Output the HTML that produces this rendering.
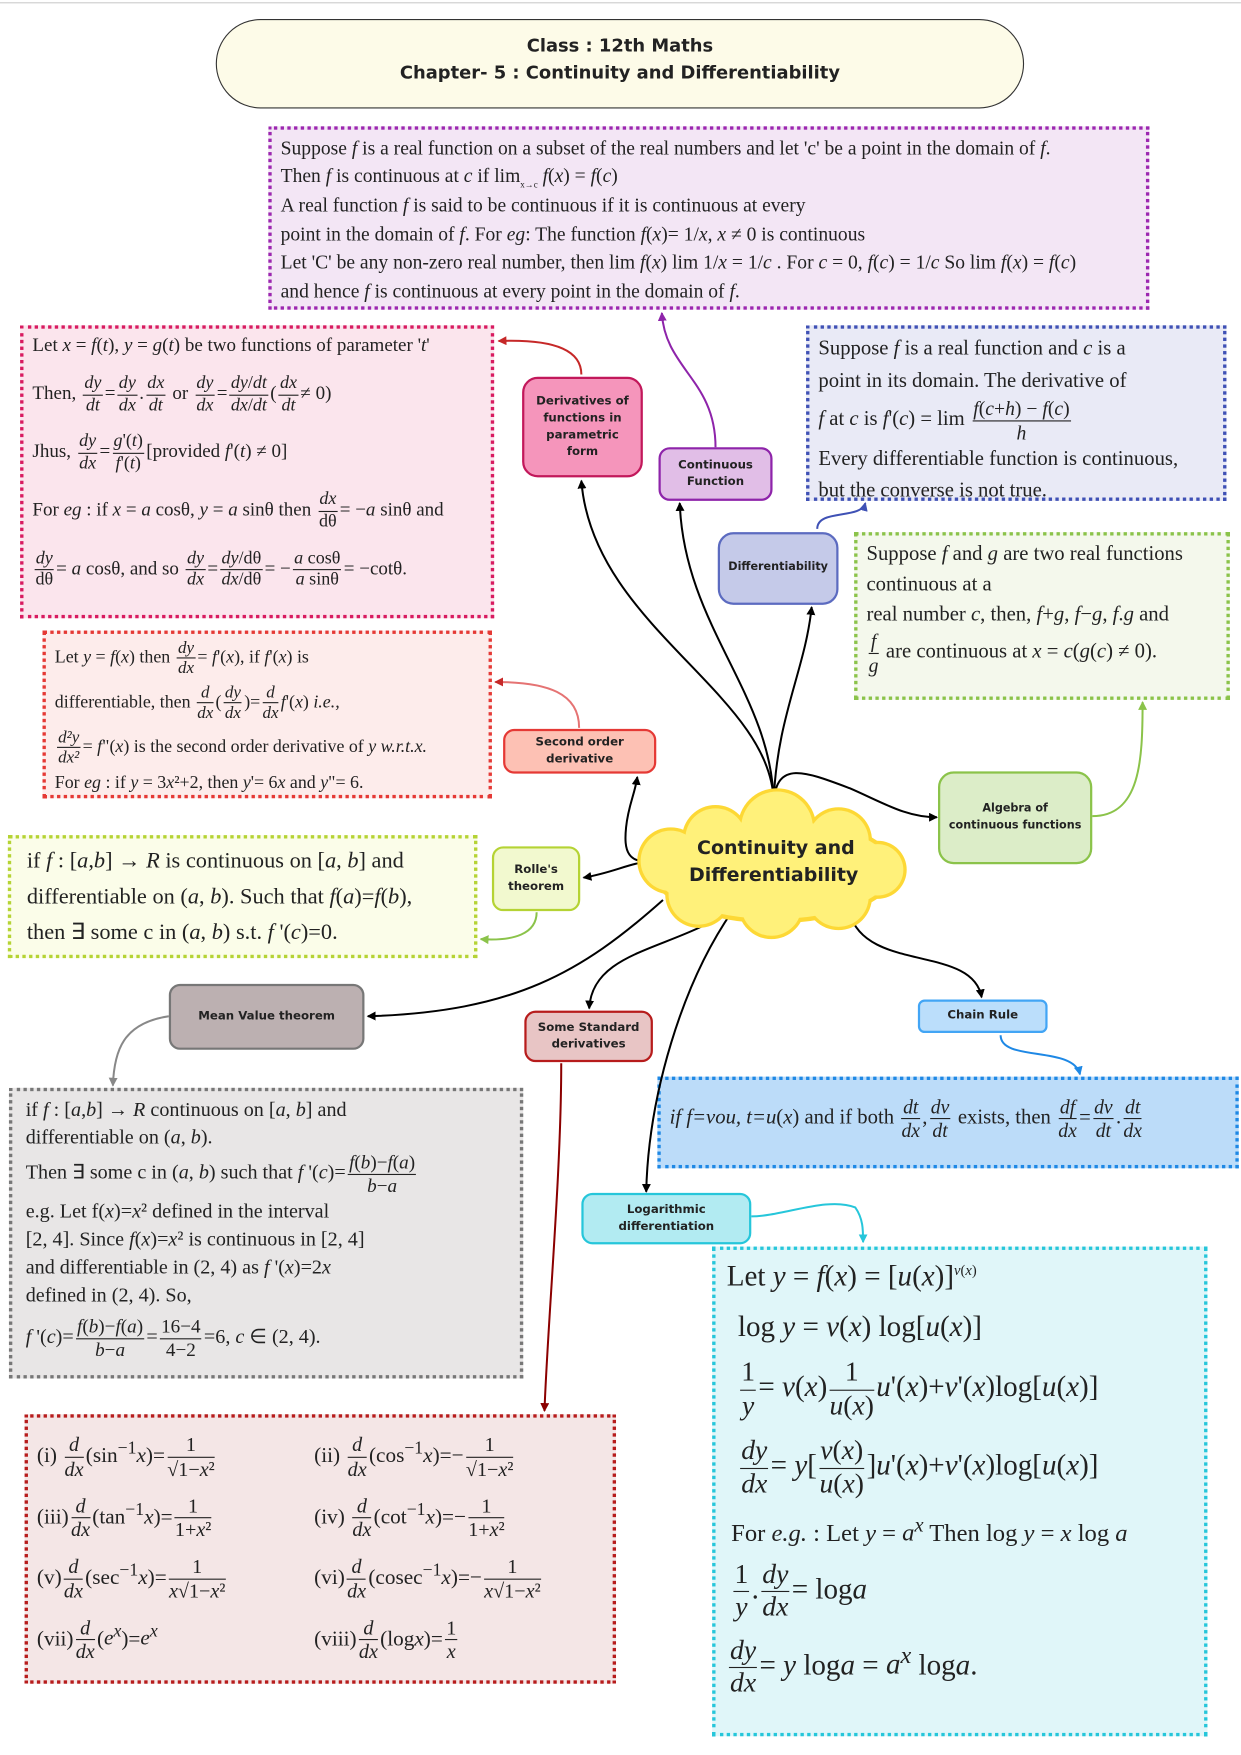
<!DOCTYPE html>
<html><head><meta charset="utf-8"><style>
html,body{margin:0;padding:0;background:#fff;}
#root{position:relative;width:1110px;height:1570px;transform:scale(1.1180);transform-origin:0 0;overflow:hidden;}
.b{position:absolute;box-sizing:border-box;border:3px dotted;font-family:"Liberation Serif",serif;color:#222;font-size:18px;line-height:1.35;padding:4px 8px;overflow:hidden;}
.n{position:absolute;box-sizing:border-box;border:2px solid;border-radius:10px;font-family:"DejaVu Sans","Liberation Sans",sans-serif;font-weight:bold;font-size:11px;line-height:1.45;display:flex;align-items:center;justify-content:center;text-align:center;color:#222;white-space:nowrap;}
.fr{display:inline-flex;flex-direction:column;vertical-align:middle;text-align:center;font-size:0.95em;line-height:1.15;margin:0 2px;}
.fr>span:first-child{border-bottom:1px solid #222;padding:0 1px;}
i{font-style:italic;}
svg{position:absolute;left:0;top:0;}
</style></head><body><div id="root">
<div style="position:absolute;left:0;top:2px;width:1110px;height:1px;background:#ccc"></div>
<div style="position:absolute;left:193px;top:17px;width:723px;height:80px;box-sizing:border-box;border:1.5px solid #333;border-radius:40px;background:#fdfbe8;font-family:'DejaVu Sans','Liberation Sans',sans-serif;font-weight:bold;font-size:16px;text-align:center;line-height:24px;padding-top:11px;color:#222">Class : 12th Maths<br>Chapter- 5 : Continuity and Differentiability</div>

<div class="b" style="left:240px;top:113px;width:788px;height:164px;background:#f3e6f5;border-color:#9c27b0;font-size:17.5px;line-height:1.45">
Suppose <i>f</i> is a real function on a subset of the real numbers and let 'c' be a point in the domain of <i>f</i>.<br>
Then <i>f</i> is continuous at <i>c</i> if lim<sub style="font-size:8px">x→c</sub> <i>f</i>(<i>x</i>) = <i>f</i>(<i>c</i>)<br>
A real function <i>f</i> is said to be continuous if it is continuous at every<br>
point in the domain of <i>f</i>. For <i>eg</i>: The function <i>f</i>(<i>x</i>)= 1/<i>x</i>, <i>x</i> ≠ 0 is continuous<br>
Let 'C' be any non-zero real number, then lim <i>f</i>(<i>x</i>) lim 1/<i>x</i> = 1/<i>c</i> . For <i>c</i> = 0, <i>f</i>(<i>c</i>) = 1/<i>c</i> So lim <i>f</i>(<i>x</i>) = <i>f</i>(<i>c</i>)<br>
and hence <i>f</i> is continuous at every point in the domain of <i>f</i>.</div>

<div class="b" style="left:18px;top:291px;width:424px;height:262px;background:#fbe5ed;border-color:#d81b60;font-size:17px;line-height:1.3">
Let <i>x</i> = <i>f</i>(<i>t</i>), <i>y</i> = <i>g</i>(<i>t</i>) be two functions of parameter '<i>t</i>'<br>
<div style="margin:14px 0">Then, <span class="fr"><span><i>dy</i></span><span><i>dt</i></span></span>=<span class="fr"><span><i>dy</i></span><span><i>dx</i></span></span>.<span class="fr"><span><i>dx</i></span><span><i>dt</i></span></span> or <span class="fr"><span><i>dy</i></span><span><i>dx</i></span></span>=<span class="fr"><span><i>dy</i>/<i>dt</i></span><span><i>dx</i>/<i>dt</i></span></span>(<span class="fr"><span><i>dx</i></span><span><i>dt</i></span></span>≠ 0)</div>
<div style="margin:14px 0">Jhus, <span class="fr"><span><i>dy</i></span><span><i>dx</i></span></span>=<span class="fr"><span><i>g</i>'(<i>t</i>)</span><span><i>f</i>'(<i>t</i>)</span></span>[provided <i>f</i>'(<i>t</i>) ≠ 0]</div>
<div style="margin:14px 0">For <i>eg</i> : if <i>x</i> = <i>a</i> cosθ, <i>y</i> = <i>a</i> sinθ then <span class="fr"><span><i>dx</i></span><span>dθ</span></span>= −<i>a</i> sinθ and</div>
<span class="fr"><span><i>dy</i></span><span>dθ</span></span>= <i>a</i> cosθ, and so <span class="fr"><span><i>dy</i></span><span><i>dx</i></span></span>=<span class="fr"><span><i>dy</i>/dθ</span><span><i>dx</i>/dθ</span></span>= −<span class="fr"><span><i>a</i> cosθ</span><span><i>a</i> sinθ</span></span>= −cotθ.</div>

<div class="b" style="left:721px;top:291px;width:376px;height:157px;background:#e9eaf6;border-color:#3f51b5;font-size:18.5px;line-height:1.55">
Suppose <i>f</i> is a real function and <i>c</i> is a<br>point in its domain. The derivative of<br>
<i>f</i> at <i>c</i> is <i>f</i>'(<i>c</i>) = lim <span class="fr"><span><i>f</i>(<i>c</i>+<i>h</i>) − <i>f</i>(<i>c</i>)</span><span><i>h</i></span></span><br>
Every differentiable function is continuous,<br>but the converse is not true.</div>

<div class="b" style="left:764px;top:476px;width:336px;height:150px;background:#f4f8ec;border-color:#8bc34a;font-size:18.5px;line-height:1.45">
Suppose <i>f</i> and <i>g</i> are two real functions<br>continuous at a<br>real number <i>c</i>, then, <i>f</i>+<i>g</i>, <i>f</i>−<i>g</i>, <i>f</i>.<i>g</i> and<br>
<span class="fr"><span><i>f</i></span><span><i>g</i></span></span> are continuous at <i>x</i> = <i>c</i>(<i>g</i>(<i>c</i>) ≠ 0).</div>

<div class="b" style="left:38px;top:564px;width:402px;height:150px;background:#fdeceb;border-color:#e53935;font-size:16px;line-height:1.3">
Let <i>y</i> = <i>f</i>(<i>x</i>) then <span class="fr"><span><i>dy</i></span><span><i>dx</i></span></span>= <i>f</i>'(<i>x</i>), if <i>f</i>'(<i>x</i>) is<br>
<div style="margin:4px 0">differentiable, then <span class="fr"><span><i>d</i></span><span><i>dx</i></span></span>(<span class="fr"><span><i>dy</i></span><span><i>dx</i></span></span>)=<span class="fr"><span><i>d</i></span><span><i>dx</i></span></span><i>f</i>'(<i>x</i>) <i>i.e.,</i></div>
<div style="margin:4px 0"><span class="fr"><span><i>d²y</i></span><span><i>dx²</i></span></span>= <i>f</i>"(<i>x</i>) is the second order derivative of <i>y w.r.t.x.</i></div>
For <i>eg</i> : if <i>y</i> = 3<i>x</i>²+2, then <i>y</i>'= 6<i>x</i> and <i>y</i>"= 6.</div>

<div class="b" style="left:7px;top:747px;width:420px;height:110px;background:#fbfde9;border-color:#b5d334;font-size:20px;line-height:1.6;padding-left:14px">
if <i>f</i> : [<i>a</i>,<i>b</i>] → <i>R</i> is continuous on [<i>a</i>, <i>b</i>] and<br>differentiable on (<i>a</i>, <i>b</i>). Such that <i>f</i>(<i>a</i>)=<i>f</i>(<i>b</i>),<br>then ∃ some c in (<i>a</i>, <i>b</i>) s.t. <i>f</i> '(<i>c</i>)=0.</div>

<div class="b" style="left:8px;top:973px;width:460px;height:260px;background:#e8e6e6;border-color:#777;font-size:18px;line-height:1.4;padding-left:12px">
if <i>f</i> : [<i>a</i>,<i>b</i>] → <i>R</i> continuous on [<i>a</i>, <i>b</i>] and<br>differentiable on (<i>a</i>, <i>b</i>).<br>
Then ∃ some c in (<i>a</i>, <i>b</i>) such that <i>f</i> '(<i>c</i>)=<span class="fr"><span><i>f</i>(<i>b</i>)−<i>f</i>(<i>a</i>)</span><span><i>b</i>−<i>a</i></span></span><br>
e.g. Let f(<i>x</i>)=<i>x</i>² defined in the interval<br>[2, 4]. Since <i>f</i>(<i>x</i>)=<i>x</i>² is continuous in [2, 4]<br>and differentiable in (2, 4) as <i>f</i> '(<i>x</i>)=2<i>x</i><br>defined in (2, 4). So,<br>
<div style="margin-top:6px"><i>f</i> '(<i>c</i>)=<span class="fr"><span><i>f</i>(<i>b</i>)−<i>f</i>(<i>a</i>)</span><span><i>b</i>−<i>a</i></span></span>=<span class="fr"><span>16−4</span><span>4−2</span></span>=6, <i>c</i> ∈ (2, 4).</div></div>

<div class="b" style="left:588px;top:963px;width:520px;height:82px;background:#bcdcf9;border-color:#1e88e5;font-size:18.5px;line-height:1;padding-top:14px">
<i>if f=vou, t=u</i>(<i>x</i>) and if both <span class="fr"><span><i>dt</i></span><span><i>dx</i></span></span>,<span class="fr"><span><i>dv</i></span><span><i>dt</i></span></span> exists, then <span class="fr"><span><i>df</i></span><span><i>dx</i></span></span>=<span class="fr"><span><i>dv</i></span><span><i>dt</i></span></span>.<span class="fr"><span><i>dt</i></span><span><i>dx</i></span></span></div>

<div class="b" style="left:22px;top:1265px;width:529px;height:241px;background:#f4e6e6;border-color:#b71c1c;font-size:19px;line-height:1.2;padding:14px 8px">
<div style="display:grid;grid-template-columns:248px 268px;row-gap:12px;white-space:nowrap">
<div>(i) <span class="fr"><span><i>d</i></span><span><i>dx</i></span></span>(sin<sup>−1</sup><i>x</i>)=<span class="fr"><span>1</span><span>√1−<i>x</i>²</span></span></div>
<div>(ii) <span class="fr"><span><i>d</i></span><span><i>dx</i></span></span>(cos<sup>−1</sup><i>x</i>)=−<span class="fr"><span>1</span><span>√1−<i>x</i>²</span></span></div>
<div>(iii)<span class="fr"><span><i>d</i></span><span><i>dx</i></span></span>(tan<sup>−1</sup><i>x</i>)=<span class="fr"><span>1</span><span>1+<i>x</i>²</span></span></div>
<div>(iv) <span class="fr"><span><i>d</i></span><span><i>dx</i></span></span>(cot<sup>−1</sup><i>x</i>)=−<span class="fr"><span>1</span><span>1+<i>x</i>²</span></span></div>
<div>(v)<span class="fr"><span><i>d</i></span><span><i>dx</i></span></span>(sec<sup>−1</sup><i>x</i>)=<span class="fr"><span>1</span><span><i>x</i>√1−<i>x</i>²</span></span></div>
<div>(vi)<span class="fr"><span><i>d</i></span><span><i>dx</i></span></span>(cosec<sup>−1</sup><i>x</i>)=−<span class="fr"><span>1</span><span><i>x</i>√1−<i>x</i>²</span></span></div>
<div>(vii)<span class="fr"><span><i>d</i></span><span><i>dx</i></span></span>(<i>e<sup>x</sup></i>)=<i>e<sup>x</sup></i></div>
<div>(viii)<span class="fr"><span><i>d</i></span><span><i>dx</i></span></span>(log<i>x</i>)=<span class="fr"><span>1</span><span><i>x</i></span></span></div>
</div></div>

<div class="b" style="left:637px;top:1115px;width:443px;height:438px;background:#e0f6f9;border-color:#26c6da;font-size:26px;line-height:1.2;padding:8px 10px;white-space:nowrap">
<div style="margin-bottom:14px">Let <i>y</i> = <i>f</i>(<i>x</i>) = [<i>u</i>(<i>x</i>)]<sup style="font-size:13px"><i>v</i>(<i>x</i>)</sup></div>
<div style="margin:0 0 12px 10px">log <i>y</i> = <i>v</i>(<i>x</i>) log[<i>u</i>(<i>x</i>)]</div>
<div style="margin:0 0 12px 10px"><span class="fr"><span>1</span><span><i>y</i></span></span>= <i>v</i>(<i>x</i>)<span class="fr"><span>1</span><span><i>u</i>(<i>x</i>)</span></span><i>u</i>'(<i>x</i>)+<i>v</i>'(<i>x</i>)log[<i>u</i>(<i>x</i>)]</div>
<div style="margin:0 0 12px 10px"><span class="fr"><span><i>dy</i></span><span><i>dx</i></span></span>= <i>y</i>[<span class="fr"><span><i>v</i>(<i>x</i>)</span><span><i>u</i>(<i>x</i>)</span></span>]<i>u</i>'(<i>x</i>)+<i>v</i>'(<i>x</i>)log[<i>u</i>(<i>x</i>)]</div>
<div style="margin:0 0 10px 4px;font-size:22px">For <i>e.g.</i> : Let <i>y</i> = <i>a<sup>x</sup></i> Then log <i>y</i> = <i>x</i> log <i>a</i></div>
<div style="margin:0 0 10px 4px"><span class="fr"><span>1</span><span><i>y</i></span></span>.<span class="fr"><span><i>dy</i></span><span><i>dx</i></span></span>= log<i>a</i></div>
<div><span class="fr"><span><i>dy</i></span><span><i>dx</i></span></span>= <i>y</i> log<i>a</i> = <i>a<sup>x</sup></i> log<i>a</i>.</div>
</div>

<svg width="1110" height="1570" viewBox="0 0 1110 1570">
<defs>
<marker id="ak" markerWidth="8" markerHeight="8" refX="7" refY="4" orient="auto" markerUnits="userSpaceOnUse"><path d="M0,0 L8,4 L0,8 z" fill="#000"/></marker>
<marker id="ar" markerWidth="8" markerHeight="8" refX="7" refY="4" orient="auto" markerUnits="userSpaceOnUse"><path d="M0,0 L8,4 L0,8 z" fill="#c62828"/></marker>
<marker id="ap" markerWidth="8" markerHeight="8" refX="7" refY="4" orient="auto" markerUnits="userSpaceOnUse"><path d="M0,0 L8,4 L0,8 z" fill="#8e24aa"/></marker>
<marker id="ab" markerWidth="8" markerHeight="8" refX="7" refY="4" orient="auto" markerUnits="userSpaceOnUse"><path d="M0,0 L8,4 L0,8 z" fill="#3f51b5"/></marker>
<marker id="ag" markerWidth="8" markerHeight="8" refX="7" refY="4" orient="auto" markerUnits="userSpaceOnUse"><path d="M0,0 L8,4 L0,8 z" fill="#8bc34a"/></marker>
<marker id="ay" markerWidth="8" markerHeight="8" refX="7" refY="4" orient="auto" markerUnits="userSpaceOnUse"><path d="M0,0 L8,4 L0,8 z" fill="#888"/></marker>
<marker id="ad" markerWidth="8" markerHeight="8" refX="7" refY="4" orient="auto" markerUnits="userSpaceOnUse"><path d="M0,0 L8,4 L0,8 z" fill="#8b0000"/></marker>
<marker id="al" markerWidth="8" markerHeight="8" refX="7" refY="4" orient="auto" markerUnits="userSpaceOnUse"><path d="M0,0 L8,4 L0,8 z" fill="#1e88e5"/></marker>
<marker id="ac" markerWidth="8" markerHeight="8" refX="7" refY="4" orient="auto" markerUnits="userSpaceOnUse"><path d="M0,0 L8,4 L0,8 z" fill="#26c6da"/></marker>
</defs>
<g fill="none" stroke-width="1.8">
<path d="M692,717 C690,620 530,560 520,430" stroke="#000" marker-end="url(#ak)"/>
<path d="M692,717 C690,620 612,560 608,450" stroke="#000" marker-end="url(#ak)"/>
<path d="M692,717 C695,640 720,600 726,543" stroke="#000" marker-end="url(#ak)"/>
<path d="M692,717 C695,680 720,690 760,705 C790,718 810,731 838,731" stroke="#000" marker-end="url(#ak)"/>
<path d="M590,770 C560,775 558,760 560,740 C562,720 568,710 570,695" stroke="#000" marker-end="url(#ak)"/>
<path d="M590,770 C565,770 552,780 522,785" stroke="#000" marker-end="url(#ak)"/>
<path d="M593,805 C520,870 460,905 329,909" stroke="#000" marker-end="url(#ak)"/>
<path d="M652,815 C600,850 530,850 527,902" stroke="#000" marker-end="url(#ak)"/>
<path d="M655,815 C610,880 580,980 578,1066" stroke="#000" marker-end="url(#ak)"/>
<path d="M760,817 C775,870 870,845 878,892" stroke="#000" marker-end="url(#ak)"/>
<path d="M520,335 C520,315 500,303 446,305" stroke="#c62828" marker-end="url(#ar)"/>
<path d="M640,400 C640,340 595,330 592,280" stroke="#8e24aa" marker-end="url(#ap)"/>
<path d="M731,473 C731,455 770,465 774,450" stroke="#3f51b5" marker-end="url(#ab)"/>
<path d="M518,651 C518,620 490,610 443,610" stroke="#e57373" marker-end="url(#ar)"/>
<path d="M977,730 C1020,730 1022,680 1022,628" stroke="#8bc34a" marker-end="url(#ag)"/>
<path d="M480,816 C480,835 460,842 430,840" stroke="#8bc34a" marker-end="url(#ag)"/>
<path d="M151,909 C110,915 102,940 101,971" stroke="#888" marker-end="url(#ay)"/>
<path d="M502,951 C502,1050 490,1180 487,1262" stroke="#8b0000" marker-end="url(#ad)"/>
<path d="M895,926 C895,950 960,935 966,961" stroke="#1e88e5" marker-end="url(#al)"/>
<path d="M672,1088 C700,1088 740,1070 765,1080 C772,1090 772,1100 772,1111" stroke="#26c6da" marker-end="url(#ac)"/>
</g>
<g fill="#fdd835">
<ellipse cx="692" cy="778" rx="110" ry="48"/><circle cx="640" cy="750" r="30"/><circle cx="695" cy="740" r="35"/><circle cx="750" cy="752" r="30"/><circle cx="600" cy="770" r="30"/><circle cx="785" cy="778" r="26"/><circle cx="625" cy="800" r="30"/><circle cx="690" cy="810" r="30"/><circle cx="750" cy="802" r="30"/>
</g>
<g fill="#fff17a">
<ellipse cx="692" cy="778" rx="106" ry="44"/><circle cx="640" cy="750" r="27"/><circle cx="695" cy="740" r="32"/><circle cx="750" cy="752" r="27"/><circle cx="600" cy="770" r="27"/><circle cx="785" cy="778" r="23"/><circle cx="625" cy="800" r="27"/><circle cx="690" cy="810" r="27"/><circle cx="750" cy="802" r="27"/>
</g>
<text x="694" y="764" text-anchor="middle" font-family="DejaVu Sans,Liberation Sans,sans-serif" font-weight="bold" font-size="17" fill="#222">Continuity and</text>
<text x="692" y="788" text-anchor="middle" font-family="DejaVu Sans,Liberation Sans,sans-serif" font-weight="bold" font-size="17" fill="#222">Differentiability</text>
</svg>

<div class="n" style="left:467px;top:337px;width:108px;height:90px;background:#f595bb;border-color:#c2185b;border-radius:14px;font-size:10.5px">Derivatives of<br>functions in<br>parametric<br>form</div>
<div class="n" style="left:589px;top:400px;width:102px;height:48px;background:#e1bee7;border-color:#8e24aa;font-size:10.5px">Continuous<br>Function</div>
<div class="n" style="left:642px;top:476px;width:108px;height:65px;background:#c5cae9;border-color:#5c6bc0;border-radius:14px;font-size:10px">Differentiability</div>
<div class="n" style="left:450px;top:652px;width:137px;height:40px;background:#fdc1b4;border-color:#e53935;font-size:10.5px">Second order<br>derivative</div>
<div class="n" style="left:440px;top:757px;width:79px;height:58px;background:#f2f9cf;border-color:#b5d334;font-size:10.5px">Rolle's<br>theorem</div>
<div class="n" style="left:839px;top:690px;width:138px;height:83px;background:#dcedc8;border-color:#8bc34a;border-radius:14px;font-size:10px">Algebra of<br>continuous functions</div>
<div class="n" style="left:151px;top:880px;width:175px;height:59px;background:#bcb0b1;border-color:#777;font-size:10.5px">Mean Value theorem</div>
<div class="n" style="left:469px;top:904px;width:115px;height:46px;background:#e8c5c5;border-color:#b71c1c;font-size:10.5px">Some Standard<br>derivatives</div>
<div class="n" style="left:821px;top:894px;width:116px;height:30px;background:#bbdefb;border-color:#42a5f5;border-radius:6px;font-size:10.5px">Chain Rule</div>
<div class="n" style="left:520px;top:1067px;width:152px;height:46px;background:#b2ebf2;border-color:#26c6da;font-size:10.5px">Logarithmic<br>differentiation</div>
</div></body></html>
